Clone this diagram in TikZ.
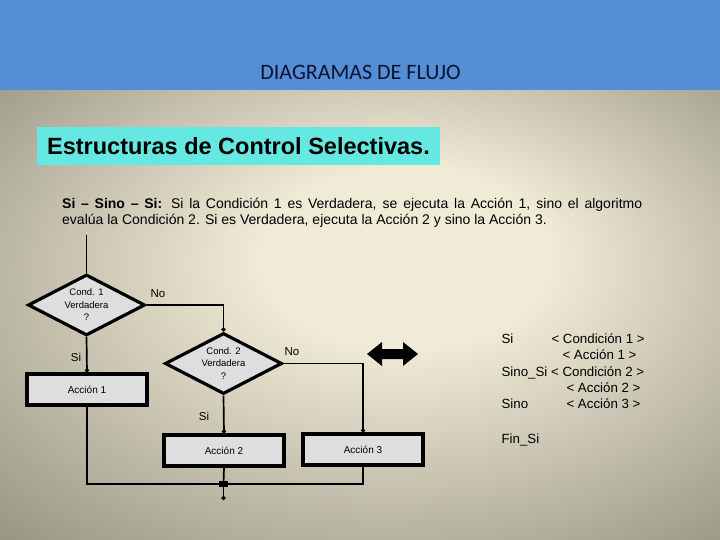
\documentclass[tikz,border=0pt]{standalone}
\usepackage{fontspec}
\setmainfont{Liberation Sans}
\newfontfamily\calibri{Carlito}
\usetikzlibrary{arrows.meta,shapes.geometric}
\definecolor{banda}{RGB}{85,142,213}
\definecolor{titulo}{RGB}{12,20,50}
\definecolor{fondoclaro}{RGB}{240,235,214}
\definecolor{fondooscuro}{RGB}{145,142,126}
\definecolor{turquesa}{RGB}{102,232,226}
\definecolor{gris}{RGB}{222,222,222}
\definecolor{pagina}{RGB}{168,166,150}
\pgfdeclareradialshading{fondo}{\pgfpoint{4bp}{8bp}}{color(0bp)=(fondoclaro); color(10bp)=(fondoclaro); color(40bp)=(fondooscuro); color(50bp)=(fondooscuro)}

\begin{document}
\begin{tikzpicture}[x=1pt,y=-1pt,
	decision/.style={diamond, draw, line width=3.2pt, fill=gris, minimum width=117pt, minimum height=61pt, inner sep=0pt, aspect=1.9, align=center, font=\fontsize{9.5}{12.5}\selectfont},
	accion/.style={rectangle, draw, line width=3.2pt, fill=gris, minimum width=120pt, minimum height=31pt, font=\fontsize{10}{12}\selectfont},
	linea/.style={line width=1.7pt},
	flecha/.style={line width=1.7pt, -{Circle[length=4pt]}},
	rotulo/.style={font=\fontsize{11.5}{13}\selectfont},
	pseudo/.style={anchor=base west, font=\fontsize{13.3}{15}\selectfont}]
	\useasboundingbox (0,0) rectangle (720,540);
	% fondo y encabezado
	\shade[shading=fondo] (0,90) rectangle (720,540);
	\fill[banda] (0,0) rectangle (720,90);
	\node[text=titulo, font=\calibri\fontsize{22}{24}\selectfont] (titulo) at (360.5,72) {DIAGRAMAS DE FLUJO};
	\node[fill=turquesa, minimum width=403pt, minimum height=38pt, inner sep=0pt, font=\bfseries\fontsize{23.5}{26}\selectfont] (tema) at (238.5,146) {Estructuras de Control Selectivas.};
	\node[anchor=north west, inner sep=0pt, text width=580pt, align=justify, font=\fontsize{14}{16}\selectfont] (texto) at (62,198)
		{\textbf{Si -- Sino -- Si:} Si la Condición 1 es Verdadera, se ejecuta la Acción 1, sino el algoritmo\linebreak
		evalúa la Condición 2. Si es Verdadera, ejecuta la Acción 2 y sino la Acción 3.};

	% diagrama
	\coordinate (inicio) at (86.5,235);
	\node[decision] (cond1) at (86.5,305) {Cond. 1\\Verdadera\\?};
	\node[decision] (cond2) at (223.5,363.5) {Cond. 2\\Verdadera\\?};
	\node[accion] (accion1) at (87,389.5) {Acción 1};
	\node[accion] (accion2) at (224,450.5) {Acción 2};
	\node[accion] (accion3) at (363,449.5) {Acción 3};
	\coordinate (union) at (223.5,484);
	\coordinate (fin) at (223.5,500);

	\draw[linea] (inicio) -- (cond1.north);
	\draw[flecha] (cond1.south) -- (accion1.north);
	\draw[flecha] (cond1.east) -| (cond2.north);
	\draw[flecha] (cond2.south) -- (accion2.north);
	\draw[flecha] (cond2.east) -| (accion3.north);
	\draw[linea] (accion1.south) |- (union);
	\draw[linea] (accion3.south) |- (union);
	\draw[linea] (accion2.south) -- (union);
	\draw[flecha] (union) -- (fin);
	\fill (219,481) rectangle (228,487);

	\node[rotulo] (no1) at (158,294) {No};
	\node[rotulo] (si1) at (76,357) {Si};
	\node[rotulo] (no2) at (292,352) {No};
	\node[rotulo] (si2) at (204,416) {Si};

	% flecha doble
	\fill (367,354) -- (382,342) -- (382,349) -- (403,349) -- (403,342) -- (418,354)
		-- (403,366) -- (403,359) -- (382,359) -- (382,366) -- cycle;

	% pseudocodigo
	\node[pseudo] (p1) at (498,343) {Si};
	\node[pseudo] (p2) at (548,343) {< Condición 1 >};
	\node[pseudo] (p3) at (559,359) {< Acción 1 >};
	\node[pseudo] (p4) at (498,376) {Sino\_Si < Condición 2 >};
	\node[pseudo] (p5) at (563,392) {< Acción 2 >};
	\node[pseudo] (p6) at (498,408) {Sino};
	\node[pseudo] (p7) at (563,408) {< Acción 3 >};
	\node[pseudo] (p8) at (498,443) {Fin\_Si};

	\node[text=pagina, font=\calibri\fontsize{12}{14}\selectfont] (num) at (672,516) {14};
\end{tikzpicture}
\end{document}
